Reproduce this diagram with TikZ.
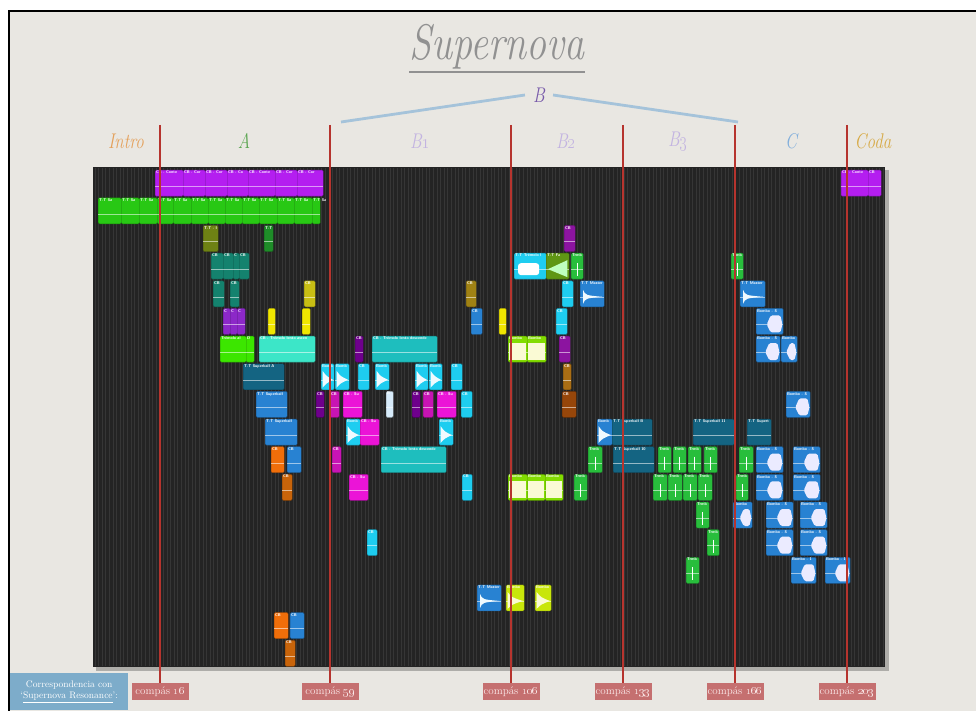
\documentclass[tikz,border=0pt]{standalone}
\usetikzlibrary{positioning,calc}

\definecolor{paper}{RGB}{233,231,226}
\definecolor{panel}{RGB}{36,36,36}
\definecolor{gridln}{RGB}{54,54,54}
\definecolor{cgrey}{RGB}{145,145,145}
\definecolor{cintro}{RGB}{228,160,90}
\definecolor{cA}{RGB}{90,165,80}
\definecolor{cBsub}{RGB}{195,180,225}
\definecolor{cB}{RGB}{120,90,170}
\definecolor{cC}{RGB}{130,175,220}
\definecolor{ccoda}{RGB}{215,170,70}
\definecolor{cbrack}{RGB}{165,195,218}
\definecolor{cred}{RGB}{182,52,46}
\definecolor{credbox}{RGB}{197,112,112}
\definecolor{credtxt}{RGB}{250,232,232}
\definecolor{cbluebox}{RGB}{125,172,202}
% clip colours
\definecolor{cviolet}{RGB}{180,30,240}
\definecolor{cgreen}{RGB}{40,200,20}
\definecolor{colive}{RGB}{110,130,20}
\definecolor{cdkgreen}{RGB}{30,140,40}
\definecolor{cplum}{RGB}{140,20,160}
\definecolor{cteal}{RGB}{20,130,110}
\definecolor{ccyan}{RGB}{30,205,240}
\definecolor{cfa}{RGB}{95,150,20}
\definecolor{ctrmb}{RGB}{40,190,60}
\definecolor{cmustard}{RGB}{200,190,20}
\definecolor{cgold}{RGB}{160,130,20}
\definecolor{cblue}{RGB}{40,130,210}
\definecolor{cpurple}{RGB}{140,40,200}
\definecolor{cyellow}{RGB}{240,230,0}
\definecolor{clgreen}{RGB}{60,230,0}
\definecolor{caqua}{RGB}{60,230,200}
\definecolor{cdkpurple}{RGB}{110,0,140}
\definecolor{cturq}{RGB}{30,190,190}
\definecolor{clime}{RGB}{130,220,0}
\definecolor{climefill}{RGB}{250,250,212}
\definecolor{cdkteal}{RGB}{20,100,130}
\definecolor{cochre}{RGB}{170,110,20}
\definecolor{cmagenta}{RGB}{235,20,215}
\definecolor{cmagdk}{RGB}{200,20,180}
\definecolor{corange}{RGB}{240,110,10}
\definecolor{cdkorange}{RGB}{200,100,10}
\definecolor{cbrown}{RGB}{150,70,10}
\definecolor{clemon}{RGB}{200,230,10}
\definecolor{cpale}{RGB}{215,235,250}

\newcommand\tall[1]{\scalebox{1}[1.25]{#1}}

\begin{document}
\begin{tikzpicture}[x=1pt, y=-1pt,
  sec/.style={font=\fontsize{17}{17}\selectfont\itshape, inner sep=1pt},
  blk/.style={draw=#1!65!black, fill=#1, rounded corners=1.2pt, line width=0.4pt,
              minimum height=26pt, inner sep=0pt, anchor=north west},
  blklbl/.style={font=\fontsize{4}{4}\selectfont\sffamily\bfseries, text=white,
                 inner sep=0pt, anchor=north west},
  wave/.style={white, opacity=0.55, line width=0.4pt},
  bar/.style={draw=cred, line width=2pt},
  cbox/.style={fill=credbox, text=credtxt, font=\fontsize{11}{11}\selectfont,
               minimum width=57pt, minimum height=17pt, inner sep=1pt, anchor=north}
]
\useasboundingbox (0,0) rectangle (976,711);
\fill[white] (0,0) rectangle (976,711);
\fill[paper] (9,11) rectangle (976,711);
\draw[black, line width=1.2pt] (9,711) -- (9,11) -- (976,11);

% ---- title and sections ----
\node[text=cgrey, font=\fontsize{40}{40}\selectfont\itshape, inner sep=0pt] (title) at (497,47) {\tall{Supernova}};
\draw[cgrey, line width=2.5pt] ([yshift=-2.5pt]title.south west) -- ([yshift=-2.5pt]title.south east);

\node[sec, text=cB, inner sep=8pt] (B) at (539,95) {\tall{B}};
\coordinate (bl) at (341,122);
\coordinate (br) at (738,122);
\draw[cbrack, line width=2.8pt] (bl) -- (B.west);
\draw[cbrack, line width=2.8pt] (B.east) -- (br);

\node[sec, text=cintro] (intro) at (126,141) {\tall{Intro}};
\node[sec, text=cA] (secA) at (244,141) {\tall{A}};
\node[sec, text=cBsub] (secB1) at (420,141) {\tall{B\oldstylenums{1}}};
\node[sec, text=cBsub] (secB2) at (566,141) {\tall{B\oldstylenums{2}}};
\node[sec, text=cBsub] (secB3) at (678,141) {\tall{B\oldstylenums{3}}};
\node[sec, text=cC] (secC) at (791,141) {\tall{C}};
\node[sec, text=ccoda] (coda) at (873,141) {\tall{Coda}};

% ---- arrange window ----
\fill[black, opacity=0.25] (96,170) rectangle (889,671);
\fill[panel] (93,167) rectangle (885,667);
\foreach \x in {95,98.6,...,884}
  \draw[gridln, line width=0.8pt] (\x,168) -- (\x,666);

% ---- regions ----
\foreach \xa/\xb [count=\i] in {98/121,121/139,139/157,157/173,173/191,191/208,208/225,
                                225/242,242/259,259/277,277/294,294/312,312/320} {
  \pgfmathsetmacro\bw{\xb-\xa}
  \node[blk=cgreen, minimum width=\bw pt] (r2-\i) at (\xa,197.65) {};
  \draw[wave] ([yshift=-3pt]r2-\i.west) -- ([yshift=-3pt]r2-\i.east);
  \node[blklbl] at ([xshift=0.8pt,yshift=-0.8pt]r2-\i.north west) {T-T Sa};
}

\foreach \nm/\rw/\xa/\xb/\col/\lbl in {
  r1a/1/155/183/cviolet/CB - Conte, r1b/1/183/205/cviolet/CB - Cor,
  r1c/1/205/227/cviolet/CB - Cor, r1d/1/227/248/cviolet/CB - Co,
  r1e/1/248/275/cviolet/CB - Conte, r1f/1/275/297/cviolet/CB - Cor,
  r1g/1/297/323/cviolet/CB - Cor, r1h/1/841/868/cviolet/CB - Conte,
  r1i/1/868/881/cviolet/CB,
  r3a/3/203/218/colive/T-T - I, r3b/3/264/273/cdkgreen/T-T, r3c/3/564/575/cplum/CB,
  r4a/4/211/223/cteal/CB, r4b/4/223/233/cteal/CB, r4c/4/233/239/cteal/C,
  r4d/4/239/249/cteal/CB, r4e/4/514/546/ccyan/T-T Trémolo l, r4f/4/546/569/cfa/T-T Fa,
  r4g/4/571/583/ctrmb/Trmb, r4h/4/731/743/ctrmb/Trmb,
  r5a/5/213/224/cteal/CB, r5b/5/230/239/cteal/CB, r5c/5/304/315/cmustard/CB,
  r5d/5/466/476/cgold/CB, r5e/5/562/573/ccyan/CB, r5f/5/580/604/cblue/T-T Master,
  r5g/5/740/765/cblue/T-T Master,
  r6a/6/223/230/cpurple/C, r6b/6/230/237/cpurple/C, r6c/6/237/245/cpurple/C,
  r6d/6/268/275/cyellow/{}, r6e/6/302/310/cyellow/{}, r6f/6/471/482/cblue/CB,
  r6g/6/499/506/cyellow/{}, r6h/6/556/567/ccyan/CB, r6i/6/756/783/cblue/Bombo - S,
  r7a/7/220/246/clgreen/Trémolo al, r7b/7/246/254/clgreen/D,
  r7c/7/259/315/caqua/CB - Trémolo lento ascen, r7d/7/355/363/cdkpurple/CB,
  r7e/7/372/437/cturq/CB - Trémolo lento descende, r7f/7/508/527/clime/Bombo,
  r7g/7/527/546/clime/Bombo, r7h/7/559/570/cplum/CB, r7i/7/756/780/cblue/Bombo - S,
  r7j/7/781/797/cblue/Bombo,
  r8a/8/243/284/cdkteal/T-T Superball A, r8b/8/321/334/ccyan/Bomb, r8c/8/335/349/ccyan/Bomb,
  r8d/8/358/369/ccyan/CB, r8e/8/375/389/ccyan/Bomb, r8f/8/415/428/ccyan/Bomb,
  r8g/8/429/442/ccyan/Bomb, r8h/8/451/462/ccyan/CB, r8i/8/563/571/cochre/CB,
  r9a/9/256/287/cblue/T-T Superball, r9b/9/316/324/cdkpurple/CB, r9c/9/330/339/cmagdk/CB,
  r9d/9/343/362/cmagenta/CB - Su, r9e/9/386/393/cpale/B, r9f/9/412/420/cdkpurple/CB,
  r9g/9/423/433/cmagdk/CB, r9h/9/437/456/cmagenta/CB - Su, r9i/9/461/472/ccyan/CB,
  r9j/9/562/576/cbrown/CB, r9k/9/786/810/cblue/Bombo - S,
  r10a/10/265/297/cblue/T-T Superball, r10b/10/346/360/ccyan/Bomb,
  r10c/10/360/379/cmagenta/CB - Su, r10d/10/439/453/ccyan/Bomb, r10e/10/597/612/cblue/Bomb,
  r10f/10/612/652/cdkteal/T-T Superball B, r10g/10/693/734/cdkteal/T-T Superball 11,
  r10h/10/747/771/cdkteal/T-T Supert,
  r11a/11/271/284/corange/CB, r11b/11/287/301/cblue/CB, r11c/11/332/341/cmagdk/CB,
  r11d/11/381/446/cturq/CB - Trémolo lento descende, r11e/11/588/602/ctrmb/Trmb,
  r11f/11/613/654/cdkteal/T-T Superball 10, r11g/11/658/671/ctrmb/Trmb,
  r11h/11/673/686/ctrmb/Trmb, r11i/11/688/701/ctrmb/Trmb, r11j/11/704/717/ctrmb/Trmb,
  r11k/11/739/753/ctrmb/Trmb, r11l/11/756/783/cblue/Bombo - S, r11m/11/793/820/cblue/Bombo - S,
  r12a/12/282/292/cdkorange/CB, r12b/12/349/368/cmagenta/CB - Su, r12c/12/462/472/ccyan/CB,
  r12d/12/508/527/clime/Bombo, r12e/12/527/545/clime/Bombo, r12f/12/545/563/clime/Bombo,
  r12g/12/574/587/ctrmb/Trmb, r12h/12/653/667/ctrmb/Trmb, r12i/12/668/682/ctrmb/Trmb,
  r12j/12/683/697/ctrmb/Trmb, r12k/12/698/712/ctrmb/Trmb, r12l/12/736/748/ctrmb/Trmb,
  r12m/12/756/783/cblue/Bombo - S, r12n/12/793/820/cblue/Bombo - S,
  r13a/13/696/709/ctrmb/Trmb, r13b/13/733/752/cblue/Bombo, r13c/13/766/793/cblue/Bombo - S,
  r13d/13/800/827/cblue/Bombo - S,
  r14a/14/367/377/ccyan/CB, r14b/14/707/719/ctrmb/Trmb, r14c/14/766/793/cblue/Bombo - S,
  r14d/14/800/827/cblue/Bombo - S,
  r15a/15/686/699/ctrmb/Trmb, r15b/15/791/816/cblue/Bombo - 1, r15c/15/825/850/cblue/Bombo - 1,
  r16a/16/477/501/cblue/T-T Master, r16b/16/506/524/clemon/Bombo, r16c/16/535/551/clemon/Bombo,
  r17a/17/274/288/corange/CB, r17b/17/290/304/cblue/CB,
  r18a/18/285/295/cdkorange/CB} {
  \pgfmathsetmacro\yt{170+27.65*(\rw-1)}
  \pgfmathsetmacro\bw{\xb-\xa}
  \node[blk=\col, minimum width=\bw pt] (\nm) at (\xa,\yt) {};
  \draw[wave] ([yshift=-3pt]\nm.west) -- ([yshift=-3pt]\nm.east);
  \node[blklbl] at ([xshift=0.8pt,yshift=-0.8pt]\nm.north west) {\lbl};
}

% waveforms
\foreach \nm in {r8b,r8c,r8e,r8f,r8g,r10b,r10d,r10e}
  \fill[white!94!cyan] ($(\nm.west)+(1.5,-6)$) .. controls ($(\nm.west)+(5.5,-0.5)$) .. ($(\nm.east)+(-1.5,3)$)
    .. controls ($(\nm.west)+(5.5,6.5)$) .. ($(\nm.west)+(1.5,11)$) -- cycle;
\foreach \nm in {r5f,r5g,r16a}
  \fill[white!94!cyan] ($(\nm.west)+(3,-4)$) .. controls ($(\nm.west)+(5.5,1.5)$) .. ($(\nm.east)+(-2,3)$)
    .. controls ($(\nm.west)+(5.5,4.5)$) .. ($(\nm.west)+(3,10)$) -- cycle;
\foreach \nm in {r6i,r7i,r7j,r9k,r11l,r11m,r12m,r12n,r13b,r13c,r13d,r14c,r14d,r15b,r15c}
  \fill[white!92!blue, rounded corners=1.5pt] ($(\nm.center)+(-3,3)$) -- ($(\nm.center)+(1,-6)$)
    -- ($(\nm.east)+(-3,-6)$) -- ($(\nm.east)+(-1,3)$) -- ($(\nm.east)+(-3,11)$)
    -- ($(\nm.center)+(1,11)$) -- cycle;
\foreach \nm in {r7f,r7g,r12d,r12e,r12f}
  \fill[climefill] ($(\nm.north west)+(1.4,7)$) rectangle ($(\nm.south east)+(-1.4,-2.5)$);
\foreach \nm in {r16b,r16c}
  \fill[climefill] ($(\nm.west)+(1.5,-6)$) .. controls ($(\nm.west)+(6,-0.5)$) .. ($(\nm.east)+(-1.5,3)$)
    .. controls ($(\nm.west)+(6,6.5)$) .. ($(\nm.west)+(1.5,11)$) -- cycle;
\fill[green!25!white] ($(r4f.west)+(2,3)$) -- ($(r4f.east)+(-2,-6)$) -- ($(r4f.east)+(-2,11)$) -- cycle;
\fill[white, rounded corners=3pt] ($(r4e.west)+(4,-3)$) rectangle ($(r4e.center)+(9,9)$);
\foreach \nm in {r4g,r4h,r11e,r11g,r11h,r11i,r11j,r11k,r12g,r12h,r12i,r12j,r12k,r12l,r13a,r14b,r15a}
  \draw[white, line width=0.7pt] ($(\nm.center)+(0,-3)$) -- ($(\nm.center)+(0,10)$);

% ---- bar markers ----
\foreach \m/\x in {16/160,59/330,106/511,133/623,166/735,203/847} {
  \coordinate (t\m) at (\x,125);
  \node[cbox] (c\m) at (\x,683) {comp\'as \oldstylenums{\m}};
  \draw[bar] (t\m) -- (c\m.north);
}

\node[fill=cbluebox, text=white, font=\fontsize{9.5}{11}\selectfont, align=center,
      minimum width=118pt, minimum height=37pt, inner sep=1pt, anchor=north west]
  (corr) at (10,673) {Correspondencia con\\‘\underline{Supernova Resonance}’:};

\end{tikzpicture}
\end{document}
